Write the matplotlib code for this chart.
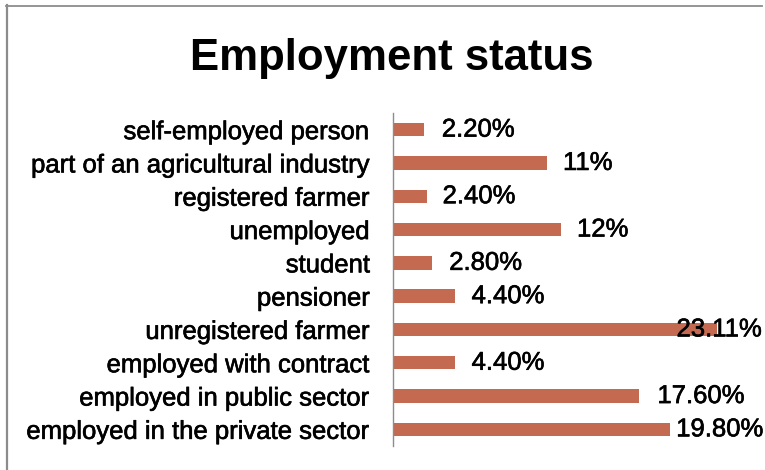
import matplotlib
matplotlib.use("Agg")
import matplotlib.pyplot as plt
import matplotlib.patheffects as pe
from matplotlib.lines import Line2D

# employment status, top row first
categories = ["self-employed person",
              "part of an agricultural industry",
              "registered farmer",
              "unemployed",
              "student",
              "pensioner",
              "unregistered farmer",
              "employed with contract",
              "employed in public sector",
              "employed in the private sector"]
values = [2.20, 11, 2.40, 12, 2.80, 4.40, 23.11, 4.40, 17.60, 19.80]
value_labels = ["2.20%", "11%", "2.40%", "12%", "2.80%", "4.40%",
                "23.11%", "4.40%", "17.60%", "19.80%"]
# horizontal nudge of each value label from the bar end (pixels)
label_nudge = [18, 16, 16, 16, 17, 17, -40, 17, 18, 6]

W, H = 765, 470
fig = plt.figure(figsize=(W / 100, H / 100), dpi=100)
ax = fig.add_axes([393 / W, 1 - 446 / H, 350 / W, 333 / H])

fonts = ["Liberation Sans", "DejaVu Sans"]
heavy = [pe.withStroke(linewidth=0.45, foreground="black")]

bar_color = "#C46A50"
ypos = list(range(len(categories)))
ax.barh(ypos, values, height=0.4, color=bar_color, zorder=1)
ax.set_xlim(0, 25)
ax.set_ylim(len(categories) - 0.5, -0.5)

ax.set_yticks(ypos)
ax.set_yticklabels(categories, fontsize=18.5, family=fonts)
for t in ax.get_yticklabels():
    t.set_path_effects(heavy)
ax.tick_params(axis="y", length=0, pad=16.5)
ax.set_xticks([])
for side in ["top", "right", "bottom"]:
    ax.spines[side].set_visible(False)
ax.spines["left"].set_color("#8c8c8c")
ax.spines["left"].set_linewidth(1)

for y, v, lab, dx in zip(ypos, values, value_labels, label_nudge):
    ax.annotate(lab, xy=(v, y), xytext=(dx, 0), textcoords="offset pixels",
                ha="left", va="center", fontsize=18.5, family=fonts,
                zorder=3, annotation_clip=False, path_effects=heavy)

fig.text(392 / W, 1 - 70 / H, "Employment status", ha="center", va="baseline",
         fontsize=31.5, fontweight="bold", family=fonts)

# chart frame (top and left edges)
fig.add_artist(Line2D([6 / W, 762 / W], [1 - 5.5 / H, 1 - 5.5 / H],
                      transform=fig.transFigure, color="#8c8c8c", linewidth=1.3))
fig.add_artist(Line2D([7 / W, 7 / W], [1 - 5 / H, 0],
                      transform=fig.transFigure, color="#8c8c8c", linewidth=1.6))

fig.savefig("out.png", dpi=100)
